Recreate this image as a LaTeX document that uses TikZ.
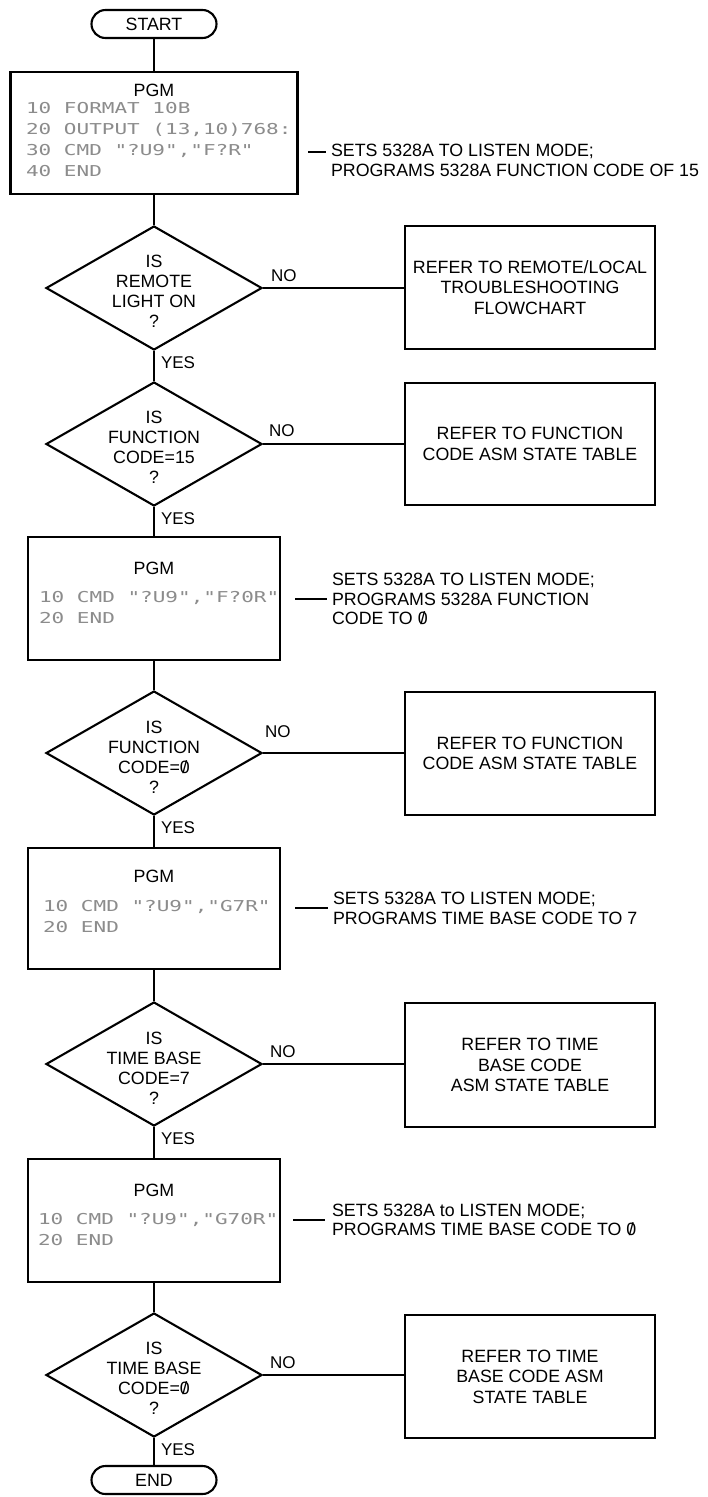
\documentclass[tikz,border=0pt]{standalone}
\usepackage{fontspec}
\setmainfont{Liberation Sans}
\newfontfamily\codefont[FakeStretch=1.4]{DejaVu Sans Mono}
\usetikzlibrary{shapes.geometric}
% slashed zero as printed in the listings and notes
\newcommand{\zslash}{\ooalign{0\cr\hidewidth/\hidewidth\cr}}
\begin{document}
\begin{tikzpicture}[x=1pt,y=-1pt,line width=2.1pt,
  font=\fontsize{17.8}{20.5}\selectfont,
  flow/.style={line width=2.1pt},
  term/.style={draw,rounded corners=14pt,minimum width=125pt,minimum height=28pt,inner sep=0pt},
  pgmbox/.style={draw,rectangle,inner sep=0pt},
  pgmtitle/.style={inner sep=0pt},
  code/.style={anchor=west,align=left,inner sep=0pt,text=black!45,
    font=\codefont\fontsize{15}{21}\selectfont},
  decision/.style={draw,diamond,minimum width=216pt,minimum height=124pt,inner sep=0pt},
  qtext/.style={align=center,inner sep=0pt,font=\fontsize{17.8}{20}\selectfont},
  refbox/.style={draw,rectangle,minimum width=250pt,align=center,inner sep=0pt},
  branch/.style={anchor=west,inner sep=0pt,font=\fontsize{17}{20}\selectfont},
  note/.style={anchor=west,align=left,inner sep=0pt,inner xsep=4pt,
    font=\fontsize{17.8}{19.5}\selectfont}]

\fill[white] (0,0) rectangle (708,1497);
\useasboundingbox (0,0) rectangle (708,1497);

% ---- main column ----
\node[term] (start) at (154,24) {START};

\node[pgmbox,minimum width=287pt,minimum height=122pt] (p1) at (154,133) {};
\node[pgmtitle] (p1t) at (154,90) {PGM};
\node[code] (p1c) at (25,139.5) {10 FORMAT 10B\\20 OUTPUT (13,10)768:\\30 CMD "?U9","F?R"\\40 END};

\node[decision] (d1) at (154,288) {};
\node[qtext] (d1t) at ([yshift=-3.5pt]d1.center) {IS\\REMOTE\\LIGHT ON\\?};

\node[decision] (d2) at (154,444) {};
\node[qtext] (d2t) at ([yshift=-3.5pt]d2.center) {IS\\FUNCTION\\CODE=15\\?};

\node[pgmbox,minimum width=252pt,minimum height=123pt] (p2) at (154,598.5) {};
\node[pgmtitle] (p2t) at (154,568) {PGM};
\node[code] (p2c) at (38,608) {10 CMD "?U9","F?0R"\\20 END};

\node[decision] (d3) at (154,753) {};
\node[qtext] (d3t) at ([yshift=-4.5pt]d3.center) {IS\\FUNCTION\\CODE=\zslash\\?};

\node[pgmbox,minimum width=252pt,minimum height=121pt] (p3) at (154,908.5) {};
\node[pgmtitle] (p3t) at (154,876) {PGM};
\node[code] (p3c) at (42,917) {10 CMD "?U9","G7R"\\20 END};

\node[decision] (d4) at (154,1064) {};
\node[qtext] (d4t) at ([yshift=-4.5pt]d4.center) {IS\\TIME BASE\\CODE=7\\?};

\node[pgmbox,minimum width=252pt,minimum height=123pt] (p4) at (154,1220.5) {};
\node[pgmtitle] (p4t) at (154,1190) {PGM};
\node[code] (p4c) at (37,1230) {10 CMD "?U9","G70R"\\20 END};

\node[decision] (d5) at (154,1375) {};
\node[qtext] (d5t) at ([yshift=-3.5pt]d5.center) {IS\\TIME BASE\\CODE=\zslash\\?};

\node[term] (end) at (154,1480) {END};

% ---- right-hand reference boxes ----
\node[refbox,minimum height=123pt] (r1) at (530,287.5) {REFER TO REMOTE/LOCAL\\TROUBLESHOOTING\\FLOWCHART};
\node[refbox,minimum height=122pt] (r2) at (530,444) {REFER TO FUNCTION\\CODE ASM STATE TABLE};
\node[refbox,minimum height=123pt] (r3) at (530,753.5) {REFER TO FUNCTION\\CODE ASM STATE TABLE};
\node[refbox,minimum height=124pt] (r4) at (530,1065) {REFER TO TIME\\BASE CODE\\ASM STATE TABLE};
\node[refbox,minimum height=123pt] (r5) at (530,1376.5) {REFER TO TIME\\BASE CODE ASM\\STATE TABLE};

% ---- flow lines ----
\draw[flow] (start.south) -- (p1.north);
\draw[flow] (p1.south) -- (d1.north);
\draw[flow] (d1.south) -- (d2.north);
\draw[flow] (d2.south) -- (p2.north);
\draw[flow] (p2.south) -- (d3.north);
\draw[flow] (d3.south) -- (p3.north);
\draw[flow] (p3.south) -- (d4.north);
\draw[flow] (d4.south) -- (p4.north);
\draw[flow] (p4.south) -- (d5.north);
\draw[flow] (d5.south) -- (end.north);

\draw[flow] (d1.east) -- (d1.east -| r1.west);
\draw[flow] (d2.east) -- (d2.east -| r2.west);
\draw[flow] (d3.east) -- (d3.east -| r3.west);
\draw[flow] (d4.east) -- (d4.east -| r4.west);
\draw[flow] (d5.east) -- (d5.east -| r5.west);

% ---- branch labels ----
\node[branch] (n1) at ([xshift=7pt,yshift=12pt]d1.east) {NO};
\node[branch] (n2) at ([xshift=5pt,yshift=13pt]d2.east) {NO};
\node[branch] (n3) at ([xshift=1pt,yshift=21pt]d3.east) {NO};
\node[branch] (n4) at ([xshift=6pt,yshift=12pt]d4.east) {NO};
\node[branch] (n5) at ([xshift=6pt,yshift=12pt]d5.east) {NO};

\node[branch] (y1) at ([xshift=6pt,yshift=-12pt]d1.south) {YES};
\node[branch] (y2) at ([xshift=6pt,yshift=-12pt]d2.south) {YES};
\node[branch] (y3) at ([xshift=6pt,yshift=-12pt]d3.south) {YES};
\node[branch] (y4) at ([xshift=6pt,yshift=-12pt]d4.south) {YES};
\node[branch] (y5) at ([xshift=6pt,yshift=-12pt]d5.south) {YES};

% ---- program notes with leader dashes ----
\coordinate (a1s) at (308,152);
\node[note] (a1) at (326,160.5) {SETS 5328A TO LISTEN MODE;\\PROGRAMS 5328A FUNCTION CODE OF 15};
\draw[flow] (a1s) -- (a1s -| a1.west);

\coordinate (a2s) at (295,599);
\node[note] (a2) at (327,599) {SETS 5328A TO LISTEN MODE;\\PROGRAMS 5328A FUNCTION\\CODE TO \zslash};
\draw[flow] (a2s) -- (a2s -| a2.west);

\coordinate (a3s) at (295,908);
\node[note] (a3) at (328,908.5) {SETS 5328A TO LISTEN MODE;\\PROGRAMS TIME BASE CODE TO 7};
\draw[flow] (a3s) -- (a3s -| a3.west);

\coordinate (a4s) at (293,1220);
\node[note] (a4) at (327,1220) {SETS 5328A to LISTEN MODE;\\PROGRAMS TIME BASE CODE TO \zslash};
\draw[flow] (a4s) -- ([xshift=-2pt]a4s -| a4.west);
\end{tikzpicture}
\end{document}
